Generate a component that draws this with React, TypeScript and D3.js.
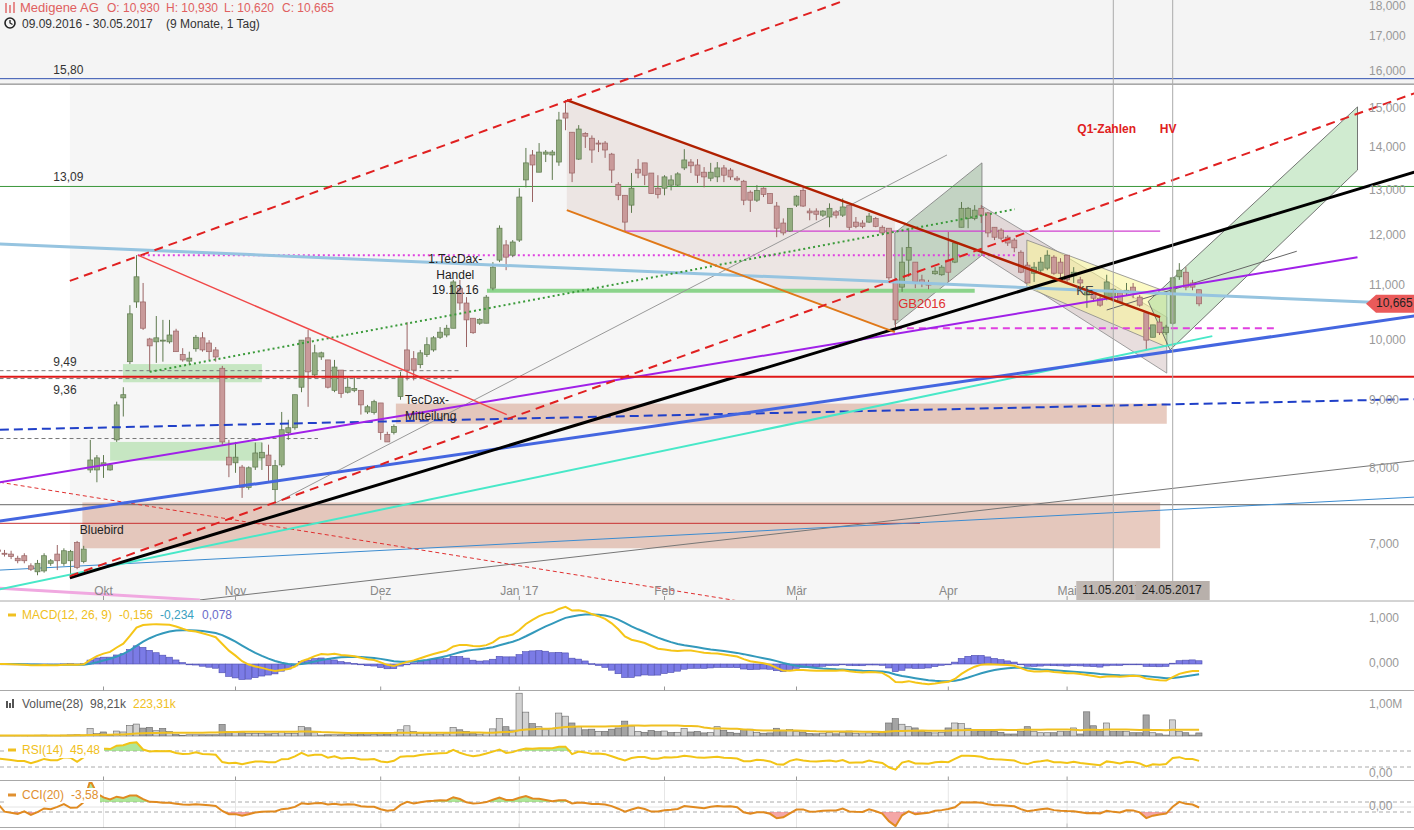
import React, { useEffect } from "react";
import * as d3 from "d3";

// ---------- Candle data (09.09.2016 - 30.05.2017, trading days) ----------
const open = [
  6.92, 6.94, 6.90, 6.89, 6.84, 6.87, 6.75, 6.68, 6.69, 6.78,
  6.89, 6.78, 6.81, 7.03, 6.80, 7.98, 7.98, 8.04, 7.98, 8.41,
  9.05, 9.64, 10.70, 10.70, 10.03, 9.98, 10.00, 9.98, 10.17, 9.76,
  9.65, 9.86, 10.05, 9.96, 9.84, 9.53, 8.16, 8.08, 8.02, 7.74,
  8.02, 8.15, 8.19, 7.71, 8.05, 8.52, 8.59, 9.22, 10.05, 9.42,
  9.72, 9.67, 9.17, 9.50, 9.14, 9.17, 9.17, 8.83, 8.82, 8.97,
  8.49, 8.52, 9.07, 9.84, 9.69, 9.59, 9.76, 9.84, 10.06, 10.10,
  10.22, 10.96, 10.68, 10.40, 10.31, 10.31, 10.96, 11.51, 11.82, 11.61,
  11.92, 13.24, 13.83, 13.42, 13.85, 13.83, 13.66, 14.88, 14.39, 13.73,
  14.36, 14.24, 14.12, 14.12, 13.85, 13.14, 12.89, 12.67, 13.49, 13.64,
  13.40, 13.05, 13.05, 13.12, 13.12, 13.52, 13.66, 13.59, 13.42, 13.28,
  13.31, 13.52, 13.47, 13.28, 13.21, 12.96, 12.78, 13.05, 12.93, 12.65,
  12.28, 12.11, 12.67, 13.00, 12.54, 12.54, 12.45, 12.41, 12.52, 12.45,
  12.67, 12.30, 12.28, 12.30, 12.38, 12.19, 12.17, 11.12, 10.98, 11.51,
  11.47, 11.12, 11.06, 11.24, 11.22, 11.51, 11.47, 12.19, 12.38, 12.38,
  12.60, 12.50, 12.19, 12.13, 11.98, 11.92, 11.67, 11.41, 11.25, 11.31,
  11.35, 11.57, 11.47, 11.61, 11.20, 11.12, 10.83, 10.89, 10.77, 10.77,
  10.79, 10.87, 10.87, 10.98, 10.79, 10.50, 10.06, 10.33, 10.14, 10.31,
  11.18, 11.27, 11.06, 10.93,
];
const high = [
  6.96, 6.99, 6.94, 6.93, 6.87, 6.90, 6.78, 6.82, 6.90, 6.83,
  7.00, 6.96, 6.94, 7.05, 6.99, 8.41, 8.19, 8.19, 8.06, 8.99,
  9.22, 10.64, 11.61, 11.06, 10.05, 10.44, 10.37, 10.37, 10.21, 9.87,
  9.81, 10.10, 10.15, 10.01, 9.89, 9.57, 8.41, 8.38, 8.05, 8.03,
  8.37, 8.37, 8.34, 8.12, 8.83, 8.71, 9.10, 10.01, 10.19, 9.93,
  9.81, 9.67, 9.67, 9.50, 9.38, 9.38, 9.17, 8.94, 9.02, 8.97,
  8.53, 8.64, 9.47, 10.33, 9.82, 9.84, 10.06, 10.08, 10.24, 10.28,
  11.12, 11.12, 10.79, 10.40, 10.40, 10.83, 11.47, 12.23, 11.92, 11.92,
  13.05, 14.00, 13.95, 14.12, 13.95, 13.95, 14.91, 15.22, 14.39, 14.57,
  14.39, 14.31, 14.19, 14.17, 13.88, 13.19, 12.89, 13.40, 13.73, 13.64,
  13.40, 13.35, 13.35, 13.35, 13.42, 13.97, 13.73, 13.73, 13.54, 13.64,
  13.66, 13.59, 13.52, 13.33, 13.24, 13.00, 13.12, 13.07, 12.93, 12.74,
  12.38, 12.60, 12.89, 13.07, 12.60, 12.60, 12.56, 12.71, 12.56, 12.82,
  12.67, 12.41, 12.34, 12.50, 12.41, 12.23, 12.17, 11.16, 11.77, 12.17,
  11.47, 11.22, 11.12, 11.37, 11.41, 12.09, 11.86, 12.74, 12.63, 12.67,
  12.67, 12.52, 12.19, 12.17, 12.02, 11.96, 11.71, 11.47, 11.47, 11.57,
  11.71, 11.61, 11.55, 11.61, 11.37, 11.18, 10.98, 10.92, 10.83, 11.22,
  10.96, 10.92, 11.06, 11.06, 10.83, 10.51, 10.28, 10.40, 10.28, 11.18,
  11.45, 11.37, 11.12, 10.93,
];
const low = [
  6.87, 6.87, 6.86, 6.83, 6.78, 6.78, 6.69, 6.64, 6.67, 6.75,
  6.70, 6.75, 6.62, 6.71, 6.78, 7.94, 7.81, 7.87, 7.97, 8.38,
  8.76, 9.60, 10.59, 10.19, 9.48, 9.62, 9.64, 9.95, 9.81, 9.64,
  9.59, 9.81, 9.81, 9.67, 9.64, 8.34, 7.88, 7.94, 7.60, 7.71,
  7.98, 7.98, 7.83, 7.53, 8.02, 8.41, 8.56, 9.14, 8.91, 9.37,
  9.67, 9.20, 9.14, 9.05, 9.12, 9.14, 8.79, 8.80, 8.79, 8.41,
  8.38, 8.49, 9.02, 9.33, 9.33, 9.53, 9.72, 9.81, 10.03, 10.06,
  10.22, 10.55, 9.89, 10.12, 10.28, 10.31, 10.92, 11.47, 11.31, 11.57,
  11.88, 13.07, 12.74, 13.42, 13.66, 13.24, 13.57, 14.44, 13.19, 13.71,
  14.00, 13.64, 13.90, 13.76, 13.17, 12.78, 12.09, 12.50, 13.28, 13.12,
  12.93, 12.82, 12.89, 13.00, 13.09, 13.47, 13.40, 13.17, 13.07, 13.21,
  13.19, 13.19, 13.24, 13.21, 12.67, 12.52, 12.74, 12.85, 12.71, 11.98,
  12.02, 12.09, 12.63, 12.63, 12.34, 12.34, 12.41, 12.19, 12.38, 12.41,
  12.13, 12.17, 12.17, 12.28, 12.19, 12.02, 11.12, 10.22, 10.89, 11.18,
  10.96, 10.98, 10.94, 11.22, 11.20, 11.08, 11.45, 12.19, 12.17, 12.34,
  12.28, 11.98, 11.92, 11.92, 11.80, 11.67, 11.25, 11.06, 11.08, 11.25,
  11.31, 11.22, 11.16, 11.08, 11.06, 10.98, 10.59, 10.70, 10.61, 10.73,
  10.70, 10.68, 10.83, 10.77, 10.61, 9.84, 10.06, 10.10, 10.10, 10.28,
  11.12, 10.92, 10.92, 10.62,
];
const close = [
  6.90, 6.92, 6.89, 6.86, 6.81, 6.81, 6.71, 6.78, 6.87, 6.81,
  6.81, 6.93, 6.92, 6.73, 6.95, 8.12, 8.15, 8.08, 8.05, 8.94,
  9.10, 10.48, 11.18, 10.22, 9.91, 10.05, 10.01, 10.10, 9.81, 9.67,
  9.70, 10.06, 9.84, 9.81, 9.72, 8.38, 8.05, 8.16, 7.74, 8.01,
  8.22, 8.23, 8.04, 8.04, 8.56, 8.59, 9.10, 10.01, 9.47, 9.79,
  9.79, 9.22, 9.55, 9.12, 9.22, 9.20, 8.94, 8.91, 8.99, 8.52,
  8.38, 8.61, 9.40, 9.50, 9.50, 9.79, 9.93, 10.05, 10.15, 10.22,
  11.08, 10.68, 10.37, 10.14, 10.38, 10.79, 11.37, 12.17, 11.57, 11.88,
  12.85, 13.64, 13.59, 13.90, 13.90, 13.90, 14.70, 14.75, 13.40, 14.47,
  14.29, 13.95, 14.10, 13.95, 13.47, 12.89, 12.30, 13.05, 13.40, 13.35,
  12.93, 12.91, 13.31, 13.24, 13.38, 13.71, 13.57, 13.35, 13.31, 13.42,
  13.52, 13.35, 13.31, 13.24, 12.78, 12.78, 13.00, 12.91, 12.71, 12.17,
  12.07, 12.60, 12.87, 12.65, 12.50, 12.47, 12.54, 12.60, 12.45, 12.63,
  12.19, 12.21, 12.21, 12.43, 12.21, 12.07, 11.16, 10.37, 11.47, 11.77,
  11.08, 11.06, 11.02, 11.29, 11.37, 11.27, 11.86, 12.60, 12.60, 12.56,
  12.45, 12.07, 11.98, 11.96, 11.86, 11.76, 11.27, 11.06, 11.37, 11.47,
  11.61, 11.25, 11.25, 11.12, 11.27, 11.06, 10.92, 10.77, 10.64, 11.08,
  10.94, 10.70, 10.92, 10.87, 10.64, 10.01, 10.28, 10.14, 10.24, 11.16,
  11.31, 10.98, 10.98, 10.665,
];
// volume in thousands of shares
const volumeK = [
  15, 20, 12, 18, 10, 14, 20, 25, 30, 12,
  22, 28, 35, 40, 30, 245, 75, 130, 20, 160,
  130, 340, 385, 255, 280, 170, 245, 150, 45, 25,
  40, 40, 40, 40, 40, 375, 150, 130, 105, 85,
  85, 85, 70, 85, 140, 85, 85, 310, 265, 105,
  30, 40, 40, 40, 50, 40, 60, 40, 50, 120,
  60, 60, 200, 330, 150, 90, 80, 70, 60, 70,
  280, 200, 150, 90, 60, 110, 230, 560, 300, 190,
  1380, 770, 400, 300, 200, 250, 740, 640, 420, 300,
  200, 220, 150, 150, 220, 260, 480, 320, 150, 120,
  180, 140, 160, 110, 120, 240, 130, 150, 100, 110,
  300, 180, 120, 90, 200, 220, 120, 90, 100, 250,
  180, 210, 140, 130, 80, 70, 90, 110, 70, 120,
  160, 90, 70, 100, 80, 120, 420, 560, 380, 300,
  260, 150, 120, 100, 110, 260, 420, 400, 250, 180,
  160, 200, 150, 120, 65, 65, 140, 300, 140, 105,
  105, 105, 140, 140, 260, 65, 780, 330, 140, 420,
  140, 140, 140, 105, 105, 680, 105, 70, 30, 520,
  140, 105, 30, 98.21,
];

// ---------- Axes ----------
const monthTickIdx = [17, 37, 59, 80, 102, 122, 145, 163];
const monthTickLabels = ["Okt", "Nov", "Dez", "Jan '17", "Feb", "Mär", "Apr", "Mai"];
const priceTicks = [7, 8, 9, 10, 11, 12, 13, 14, 15, 16, 17, 18];
const markerIdx = [170, 179];
const markerLabels = ["11.05.2017", "24.05.2017"];

// ---------- Drawings (index, price) ----------
const levelLabelTexts = ["15,80", "13,09", "9,49", "9,36"];
const levelLabelPrices = [15.8, 13.09, 9.49, 9.36];
const levelLabelIdx = 9.4;

const redChannelUpper = [[11.9, 11.1], [129.4, 18.12]];
const redChannelLower = [[11.9, 6.63], [215.6, 15.4]];
const blackTrend = [[11.9, 6.61], [215.6, 13.42]];
const blueTrend = [[1.3, 7.3], [215.6, 10.44]];
const turquoiseTrend = [[1.3, 6.48], [185.0, 10.08]];
const lightBlueTrend = [[1.3, 11.84], [215.6, 10.66]];
const purpleTrend = [[1.3, 7.81], [207.0, 11.57]];
const blueDashTrend = [[1.3, 8.56], [215.6, 9.03]];
const redFallLine = [[22.2, 11.61], [78.1, 8.79]];
const darkRedFall = [[87.2, 15.22], [177.1, 10.42]];
const orangeFall = [[87.2, 12.56], [136.9, 10.15]];
const greenDotted = [[24.0, 9.47], [155.1, 12.58]];
const grayLong = [[43.0, 7.53], [144.8, 13.83]];
const grayBottom = [[31.6, 6.36], [215.6, 8.11]];
const blueThinBottom = [[1.3, 6.7], [215.6, 7.61]];
const pinkBottom = [[1.3, 6.49], [31.6, 6.36]];
const redDashThin = [[1.3, 7.81], [116.5, 6.31]];
const grayMay = [[169.0, 10.55], [197.8, 11.69]];

const fallChannel = [[87.2, 15.22], [136.9, 12.33], [136.9, 10.15], [87.2, 12.56]];
const aprilChannel = [[136.9, 12.07], [150.1, 13.64], [150.1, 11.61], [136.9, 10.28]];
const aprMayChannel = [[150.1, 12.65], [178.1, 10.42], [178.1, 9.45], [150.1, 11.61]];
const yellowChannel = [[156.9, 11.92], [178.1, 10.89], [178.1, 9.89], [156.9, 10.98]];
const mayChannel = [[175.3, 10.71], [207.0, 15.04], [207.0, 13.47], [178.6, 9.84]];

const grayZoneIdx = [11.9, 170];
const greenZoneA = { idx: [19.95, 41.0], price: [9.3, 9.6] };
const greenZoneB = { idx: [18.0, 41.0], price: [8.11, 8.38] };
const tecDaxZone = { idx: [61.3, 178.1], price: [8.65, 8.96] };
const bluebirdZone = { idx: [13.8, 177.1], price: [6.96, 7.54] };

const topBandPrice = 15.65;
const level1580 = 15.8;
const level1309 = 13.09;
const redLevel = 9.39;
const dash949 = { price: 9.49, to: 71 };
const dash936 = { price: 9.36, to: 70 };
const dash843 = { price: 8.43, to: 49.5 };
const grayLevel = 7.51;
const redThinLevel = { price: 7.27, to: 140.7 };
const magentaDotted = { price: 11.61, from: 22.2, to: 155.1 };
const magentaDashed = { price: 10.22, from: 136.9, to: 195.0 };
const magentaThin = { price: 12.11, from: 96.0, to: 177.1 };
const greenThick = { price: 10.91, from: 75.1, to: 149.0 };

const annotQ1 = [169.0, 14.44];
const annotHV = [178.3, 14.44];
const annotGB = [137.4, 10.66];
const annotKE = [165.7, 10.89];
const annotTecDax1 = [70.3, 11.51];
const annotTecDax1Lines = ["1.TecDax-", "Handel", "19.12.16"];
const annotTecDax2 = [62.7, 9.0];
const annotTecDax2Lines = ["TecDax-", "Mitteilung"];
const annotBluebird = [13.4, 7.18];

const macdLabelVals = ["-0,156", "-0,234", "0,078"];
const volLabelVals = ["98,21k", "223,31k"];
const rsiLabelVal = "45,48";
const cciLabelVal = "-3,58";

const FONT = "'Liberation Sans', Arial, Helvetica, sans-serif";
const fmt3 = (v: number) => d3.format(".3f")(v).replace(".", ",");

function ema(arr: number[], n: number) {
  const k = 2 / (n + 1);
  const out: number[] = [];
  arr.forEach((v, i) => out.push(i === 0 ? v : v * k + out[i - 1] * (1 - k)));
  return out;
}

export default function App() {
  useEffect(() => {
    document.body.style.margin = "0";
  }, []);

  const N = close.length;
  const STEP = 6.6;
  const X0 = -8.7;
  const x = d3.scaleLinear().domain([0, N - 1]).range([X0, X0 + STEP * (N - 1)]);
  const y = d3.scaleLog().domain([7, 18]).range([545, 4]);
  const yMacd = d3.scaleLinear().domain([0, 1]).range([664, 619]);
  const yVol = d3.scaleLinear().domain([0, 1000]).range([736, 705]);
  const yRsi = d3.scaleLinear().domain([0, 100]).range([779, 739]);
  const yCci = d3.scaleLinear().domain([-100, 100]).range([812, 802]);
  const W = 1414;
  const XL = -3, XR = 217;
  const AX = 1369;

  // indicators
  const e12 = ema(close, 12);
  const e26 = ema(close, 26);
  const macd = close.map((_, i) => e12[i] - e26[i]);
  const signal = ema(macd, 9);
  const hist = macd.map((m, i) => m - signal[i]);
  const volMA = volumeK.map((_, i) => d3.mean(volumeK.slice(Math.max(0, i - 27), i + 1)) as number);
  // Wilder RSI, seeded as after a long sideways phase
  const rsi: number[] = [];
  let ag = 0.035, al = 0.035;
  close.forEach((c, i) => {
    if (i > 0) {
      const ch = c - close[i - 1];
      ag = (ag * 13 + Math.max(ch, 0)) / 14;
      al = (al * 13 + Math.max(-ch, 0)) / 14;
    }
    rsi.push(100 - 100 / (1 + ag / al));
  });
  const tp = close.map((c, i) => (high[i] + low[i] + c) / 3);
  const cci = tp.map((t, i) => {
    const w = tp.slice(Math.max(0, i - 19), i + 1);
    const m = d3.mean(w) as number;
    const md = d3.mean(w, (v) => Math.abs(v - m)) as number;
    return md === 0 ? 0 : (t - m) / (0.015 * md);
  });

  const idx = d3.range(N);
  const P = (p: number[]) => `${x(p[0])},${y(p[1])}`;
  const seg = (a: number[][], props: any) => (
    <line x1={x(a[0][0])} y1={y(a[0][1])} x2={x(a[1][0])} y2={y(a[1][1])} {...props} />
  );
  const poly = (a: number[][], props: any) => <polygon points={a.map(P).join(" ")} {...props} />;
  const hl = (price: number, i0: number, i1: number, props: any) => (
    <line x1={x(i0)} x2={x(i1)} y1={y(price)} y2={y(price)} {...props} />
  );
  const zone = (z: { idx: number[]; price: number[] }, props: any) => (
    <rect x={x(z.idx[0])} y={y(z.price[1])} width={x(z.idx[1]) - x(z.idx[0])}
      height={y(z.price[0]) - y(z.price[1])} {...props} />
  );

  const macdLine = d3.line<number>().x((i) => x(i)).y((i) => yMacd(macd[i]));
  const sigLine = d3.line<number>().x((i) => x(i)).y((i) => yMacd(signal[i]));
  const volMALine = d3.line<number>().x((i) => x(i)).y((i) => yVol(volMA[i]));
  const rsiLine = d3.line<number>().x((i) => x(i)).y((i) => yRsi(rsi[i]));
  const rsiFill = d3.area<number>().x((i) => x(i)).y0(yRsi(70)).y1((i) => yRsi(Math.max(70, rsi[i])));
  const cciLine = d3.line<number>().x((i) => x(i)).y((i) => yCci(cci[i]));
  const cciUp = d3.area<number>().x((i) => x(i)).y0(yCci(100)).y1((i) => yCci(Math.max(100, cci[i])));
  const cciDn = d3.area<number>().x((i) => x(i)).y0(yCci(-100)).y1((i) => yCci(Math.min(-100, cci[i])));

  const last = N - 1;
  const upFill = "#93ad80", upStroke = "#5f7a4f", dnFill = "#c99a9a", dnStroke = "#9a6464";
  const sepColor = "#a8a8a8";
  const tagY = y(close[last]);

  return (
    <svg width={W} height={830} style={{ display: "block", position: "absolute", left: 0, top: 0 }}
      fontFamily={FONT}>
      <defs>
        <clipPath id="cMain"><rect x={0} y={0} width={W} height={600} /></clipPath>
        <clipPath id="cMacd"><rect x={0} y={602} width={W} height={88} /></clipPath>
        <clipPath id="cVol"><rect x={0} y={691} width={W} height={46} /></clipPath>
        <clipPath id="cRsi"><rect x={0} y={737} width={W} height={43} /></clipPath>
        <clipPath id="cCci"><rect x={0} y={782} width={W} height={45} /></clipPath>
      </defs>
      <rect x={0} y={0} width={W} height={830} fill="#fff" />

      {/* ---------- main panel ---------- */}
      <g clipPath="url(#cMain)">
        <rect x={x(grayZoneIdx[0])} y={0} width={x(grayZoneIdx[1]) - x(grayZoneIdx[0])} height={600} fill="#f6f6f6" />
        <rect x={0} y={0} width={W} height={y(topBandPrice)} fill="#f4f4f4" />

        {zone(bluebirdZone, { fill: "rgba(214,160,140,0.55)" })}
        {zone(tecDaxZone, { fill: "rgba(214,160,140,0.55)" })}
        {zone(greenZoneA, { fill: "rgba(140,210,130,0.45)" })}
        {zone(greenZoneB, { fill: "rgba(140,210,130,0.45)" })}

        {poly(fallChannel, { fill: "rgba(200,170,160,0.22)" })}
        {poly(aprMayChannel, { fill: "rgba(190,160,160,0.35)", stroke: "#888", strokeWidth: 0.8 })}
        {poly(yellowChannel, { fill: "rgba(250,245,150,0.55)", stroke: "#888", strokeWidth: 0.8 })}
        {poly(aprilChannel, { fill: "rgba(120,160,120,0.4)", stroke: "#777", strokeWidth: 0.8 })}
        {poly(mayChannel, { fill: "rgba(150,210,150,0.45)", stroke: "#555", strokeWidth: 0.8 })}

        {/* horizontal levels */}
        {hl(level1580, XL, XR, { stroke: "#3050b0", strokeWidth: 1 })}
        {hl(topBandPrice, XL, XR, { stroke: "#777", strokeWidth: 1 })}
        {hl(level1309, XL, XR, { stroke: "#3a963a", strokeWidth: 1 })}
        {hl(dash949.price, XL, dash949.to, { stroke: "#777", strokeWidth: 1, strokeDasharray: "4,3" })}
        {hl(dash936.price, XL, dash936.to, { stroke: "#777", strokeWidth: 1, strokeDasharray: "4,3" })}
        {hl(dash843.price, XL, dash843.to, { stroke: "#777", strokeWidth: 1, strokeDasharray: "4,3" })}
        {hl(grayLevel, XL, XR, { stroke: "#666", strokeWidth: 1 })}
        {hl(redThinLevel.price, XL, redThinLevel.to, { stroke: "#c83030", strokeWidth: 1 })}
        {hl(greenThick.price, greenThick.from, greenThick.to, { stroke: "#8cd48c", strokeWidth: 4 })}
        {hl(magentaThin.price, magentaThin.from, magentaThin.to, { stroke: "#d040d0", strokeWidth: 1.2 })}
        {hl(magentaDotted.price, magentaDotted.from, magentaDotted.to, { stroke: "#e040e0", strokeWidth: 2, strokeDasharray: "2,3" })}
        {hl(magentaDashed.price, magentaDashed.from, magentaDashed.to, { stroke: "#e040e0", strokeWidth: 2, strokeDasharray: "7,5" })}

        {/* thin trend lines */}
        {seg(grayLong, { stroke: "#999", strokeWidth: 1 })}
        {seg(grayBottom, { stroke: "#777", strokeWidth: 1 })}
        {seg(blueThinBottom, { stroke: "#3c8cd0", strokeWidth: 1 })}
        {seg(grayMay, { stroke: "#666", strokeWidth: 1 })}
        {seg(redDashThin, { stroke: "#e03030", strokeWidth: 1, strokeDasharray: "4,3" })}
        {seg(pinkBottom, { stroke: "#f0a8e0", strokeWidth: 3 })}

        {/* candles */}
        {idx.map((i) => {
          const up = close[i] >= open[i];
          const cx = x(i);
          const yt = y(Math.max(open[i], close[i]));
          const yb = y(Math.min(open[i], close[i]));
          return (
            <g key={"c" + i}>
              <line x1={cx} x2={cx} y1={y(high[i])} y2={y(low[i])} stroke={up ? upStroke : dnStroke} strokeWidth={1} />
              <rect x={cx - 2.5} y={yt} width={5} height={Math.max(1, yb - yt)}
                fill={up ? upFill : dnFill} stroke={up ? upStroke : dnStroke} strokeWidth={0.7} />
            </g>
          );
        })}

        {/* thick trend lines */}
        {seg(lightBlueTrend, { stroke: "#96c4e0", strokeWidth: 3 })}
        {seg(blueDashTrend, { stroke: "#2040c8", strokeWidth: 2, strokeDasharray: "9,5" })}
        {seg(turquoiseTrend, { stroke: "#48e8c8", strokeWidth: 2 })}
        {seg(blueTrend, { stroke: "#4466e0", strokeWidth: 3 })}
        {seg(purpleTrend, { stroke: "#a020e8", strokeWidth: 2 })}
        {seg(blackTrend, { stroke: "#000", strokeWidth: 3 })}
        {seg(greenDotted, { stroke: "#3a9a3a", strokeWidth: 2, strokeDasharray: "2,3" })}
        {seg(redFallLine, { stroke: "#f04848", strokeWidth: 1.5 })}
        {seg(orangeFall, { stroke: "#e07818", strokeWidth: 2 })}
        {seg(darkRedFall, { stroke: "#b02000", strokeWidth: 2.5 })}
        {hl(redLevel, XL, XR, { stroke: "#e01818", strokeWidth: 2 })}
        {seg(redChannelUpper, { stroke: "#e02020", strokeWidth: 2, strokeDasharray: "9,6" })}
        {seg(redChannelLower, { stroke: "#e02020", strokeWidth: 2, strokeDasharray: "9,6" })}

        {/* marker lines */}
        {markerIdx.map((m) => (
          <line key={"m" + m} x1={x(m)} x2={x(m)} y1={0} y2={582} stroke="#aaa" strokeWidth={1} />
        ))}

        {/* annotations */}
        {levelLabelTexts.map((t, k) => (
          <text key={"lv" + k} x={x(levelLabelIdx)} y={y(levelLabelPrices[k]) + (k === 3 ? 15 : -5)}
            fontSize={12} fill="#333">{t}</text>
        ))}
        <text x={x(annotQ1[0])} y={y(annotQ1[1])} textAnchor="middle" dominantBaseline="middle"
          fontSize={12} fontWeight="bold" fill="#e02020">Q1-Zahlen</text>
        <text x={x(annotHV[0])} y={y(annotHV[1])} textAnchor="middle" dominantBaseline="middle"
          fontSize={12} fontWeight="bold" fill="#e02020">HV</text>
        <text x={x(annotGB[0])} y={y(annotGB[1])} dominantBaseline="middle" fontSize={13} fill="#e03030">GB2016</text>
        <text x={x(annotKE[0])} y={y(annotKE[1])} textAnchor="middle" dominantBaseline="middle" fontSize={13} fill="#444">KE</text>
        {annotTecDax1Lines.map((t, k) => (
          <text key={"t1" + k} x={x(annotTecDax1[0])} y={y(annotTecDax1[1]) + k * 15.5}
            textAnchor="middle" dominantBaseline="middle" fontSize={12} fill="#222">{t}</text>
        ))}
        {annotTecDax2Lines.map((t, k) => (
          <text key={"t2" + k} x={x(annotTecDax2[0])} y={y(annotTecDax2[1]) + k * 16}
            dominantBaseline="middle" fontSize={12} fill="#222">{t}</text>
        ))}
        <text x={x(annotBluebird[0])} y={y(annotBluebird[1])} dominantBaseline="middle" fontSize={12} fill="#222">Bluebird</text>

        {/* price axis */}
        {priceTicks.map((p) => (
          <text key={"pt" + p} x={AX} y={p === 18 ? y(p) + 3 : y(p)} dominantBaseline="middle" fontSize={12} fill="#999">
            {d3.format(".3f")(p).replace(".", ",")}
          </text>
        ))}
        <polygon points={`1366,${tagY} 1376,${tagY - 9} 1416,${tagY - 9} 1416,${tagY + 9} 1376,${tagY + 9}`}
          fill="#ea5a5a" />
        <text x={1376} y={tagY} dominantBaseline="middle" fontSize={12} fill="#222">{fmt3(close[last])}</text>

        {/* x axis labels */}
        {monthTickIdx.map((m, k) => (
          <g key={"mt" + k}>
            <line x1={x(m)} x2={x(m)} y1={596} y2={601} stroke="#999" />
            <text x={x(m)} y={592} textAnchor="middle" dominantBaseline="middle" fontSize={12} fill="#888">
              {monthTickLabels[k]}
            </text>
          </g>
        ))}
        {markerIdx.map((m, k) => (
          <g key={"mk" + k}>
            <rect x={x(m) - 37} y={581} width={74} height={20} fill={k === 0 ? "#c0b8b3" : "#b8b0ab"} />
            <text x={x(m) - 31} y={591} dominantBaseline="middle" fontSize={12} fill="#222">{markerLabels[k]}</text>
          </g>
        ))}
      </g>

      {/* header */}
      <g>
        <g stroke="#e06060" strokeWidth={1.4}>
          <line x1={6} x2={6} y1={3} y2={13} />
          <line x1={10} x2={10} y1={5} y2={13} />
          <line x1={14} x2={14} y1={2} y2={13} />
        </g>
        <text y={12} fontSize={12} fill="#e06060">
          <tspan x={20} fontSize={13}>Medigene AG</tspan>
          <tspan x={107}>{`O: ${fmt3(open[last])}`}</tspan>
          <tspan x={166}>{`H: ${fmt3(high[last])}`}</tspan>
          <tspan x={224}>{`L: ${fmt3(low[last])}`}</tspan>
          <tspan x={282}>{`C: ${fmt3(close[last])}`}</tspan>
        </text>
        <circle cx={10} cy={23} r={5} fill="none" stroke="#222" strokeWidth={1.6} />
        <path d="M10,20 L10,23 L12.5,24.5" fill="none" stroke="#222" strokeWidth={1.3} />
        <text y={28} fontSize={12} fill="#333">
          <tspan x={22}>09.09.2016 - 30.05.2017</tspan>
          <tspan x={166}>(9 Monate, 1 Tag)</tspan>
        </text>
      </g>

      {/* separators */}
      {[601, 690.5, 780.5, 827.5].map((sy) => (
        <g key={"sep" + sy}>
          <line x1={0} x2={W} y1={sy} y2={sy} stroke={sepColor} />
          {sy > 601 && monthTickIdx.map((m) => (
            <line key={"tk" + m} x1={x(m)} x2={x(m)} y1={sy - 4} y2={sy} stroke="#999" />
          ))}
        </g>
      ))}

      {/* ---------- MACD ---------- */}
      <g clipPath="url(#cMacd)">
        {idx.map((i) => (
          <rect key={"h" + i} x={x(i) - STEP / 2} width={STEP - 0.4}
            y={Math.min(yMacd(hist[i]), yMacd(0))} height={Math.max(0.8, Math.abs(yMacd(hist[i]) - yMacd(0)))}
            fill="#7b7be6" stroke="#4c4cb0" strokeWidth={0.6} />
        ))}
        <path d={sigLine(idx) || ""} fill="none" stroke="#3399bb" strokeWidth={2} />
        <path d={macdLine(idx) || ""} fill="none" stroke="#f5c518" strokeWidth={2} />
        <text x={AX} y={yMacd(1)} dominantBaseline="middle" fontSize={12} fill="#999">1,000</text>
        <text x={AX} y={yMacd(0)} dominantBaseline="middle" fontSize={12} fill="#999">0,000</text>
        <line x1={8} x2={16} y1={615} y2={615} stroke="#f0c020" strokeWidth={3} />
        <text y={619} fontSize={12}>
          <tspan x={22} fill="#f0c020">MACD(12, 26, 9)</tspan>
          <tspan x={119} fill="#f0c020">{macdLabelVals[0]}</tspan>
          <tspan x={160} fill="#3aa0c0">{macdLabelVals[1]}</tspan>
          <tspan x={202} fill="#6a6ac8">{macdLabelVals[2]}</tspan>
        </text>
      </g>

      {/* ---------- Volume ---------- */}
      <g clipPath="url(#cVol)">
        {idx.map((i) => {
          const up = i === 0 ? true : close[i] >= close[i - 1];
          return (
            <rect key={"v" + i} x={x(i) - STEP / 2} width={STEP - 0.4} y={yVol(volumeK[i])}
              height={yVol(0) - yVol(volumeK[i])} fill={up ? "#d2d2d2" : "#a4a4a4"} stroke="#666" strokeWidth={0.6} />
          );
        })}
        <path d={volMALine(idx) || ""} fill="none" stroke="#f0c020" strokeWidth={2} />
        <text x={AX} y={705} dominantBaseline="middle" fontSize={12} fill="#999">1,00M</text>
        <g fill="#555">
          <rect x={6} y={701} width={2} height={7} />
          <rect x={9} y={703} width={2} height={5} />
          <rect x={12} y={699} width={2} height={9} />
        </g>
        <rect x={20} y={697} width={160} height={15} fill="#fff" opacity={0.85} />
        <text y={708} fontSize={12}>
          <tspan x={22} fill="#555">Volume(28)</tspan>
          <tspan x={90} fill="#555">{volLabelVals[0]}</tspan>
          <tspan x={133} fill="#f0c020">{volLabelVals[1]}</tspan>
        </text>
      </g>

      {/* ---------- RSI ---------- */}
      <g clipPath="url(#cRsi)">
        <line x1={0} x2={W} y1={yRsi(70)} y2={yRsi(70)} stroke="#aaa" strokeDasharray="4,3" />
        <line x1={0} x2={W} y1={yRsi(30)} y2={yRsi(30)} stroke="#aaa" strokeDasharray="4,3" />
        <path d={rsiFill(idx) || ""} fill="rgba(140,220,110,0.7)" />
        <path d={rsiLine(idx) || ""} fill="none" stroke="#f2c416" strokeWidth={2} />
        <text x={AX} y={774} dominantBaseline="middle" fontSize={12} fill="#999">0,00</text>
        <rect x={4} y={743} width={100} height={15} fill="#fff" />
        <line x1={8} x2={16} y1={750} y2={750} stroke="#f0c020" strokeWidth={3} />
        <text y={754} fontSize={12} fill="#f0c020">
          <tspan x={22}>RSI(14)</tspan>
          <tspan x={70}>{rsiLabelVal}</tspan>
        </text>
      </g>

      {/* ---------- CCI ---------- */}
      <g clipPath="url(#cCci)">
        {monthTickIdx.map((m) => (
          <line key={"cg" + m} x1={x(m)} x2={x(m)} y1={781} y2={827} stroke="#e6e6e6" />
        ))}
        <line x1={0} x2={W} y1={yCci(100)} y2={yCci(100)} stroke="#aaa" strokeDasharray="4,3" />
        <line x1={0} x2={W} y1={yCci(-100)} y2={yCci(-100)} stroke="#aaa" strokeDasharray="4,3" />
        <line x1={0} x2={W} y1={yCci(0)} y2={yCci(0)} stroke="#e4e4e4" />
        <path d={cciUp(idx) || ""} fill="rgba(140,220,110,0.7)" />
        <path d={cciDn(idx) || ""} fill="rgba(240,130,130,0.7)" />
        <path d={cciLine(idx) || ""} fill="none" stroke="#e08a20" strokeWidth={2} />
        <text x={AX} y={yCci(0)} dominantBaseline="middle" fontSize={12} fill="#999">0,00</text>
        <rect x={4} y={788} width={96} height={15} fill="#fff" />
        <line x1={8} x2={16} y1={795} y2={795} stroke="#e09030" strokeWidth={3} />
        <text y={799} fontSize={12} fill="#e09030">
          <tspan x={22}>CCI(20)</tspan>
          <tspan x={71}>{cciLabelVal}</tspan>
        </text>
      </g>
    </svg>
  );
}
